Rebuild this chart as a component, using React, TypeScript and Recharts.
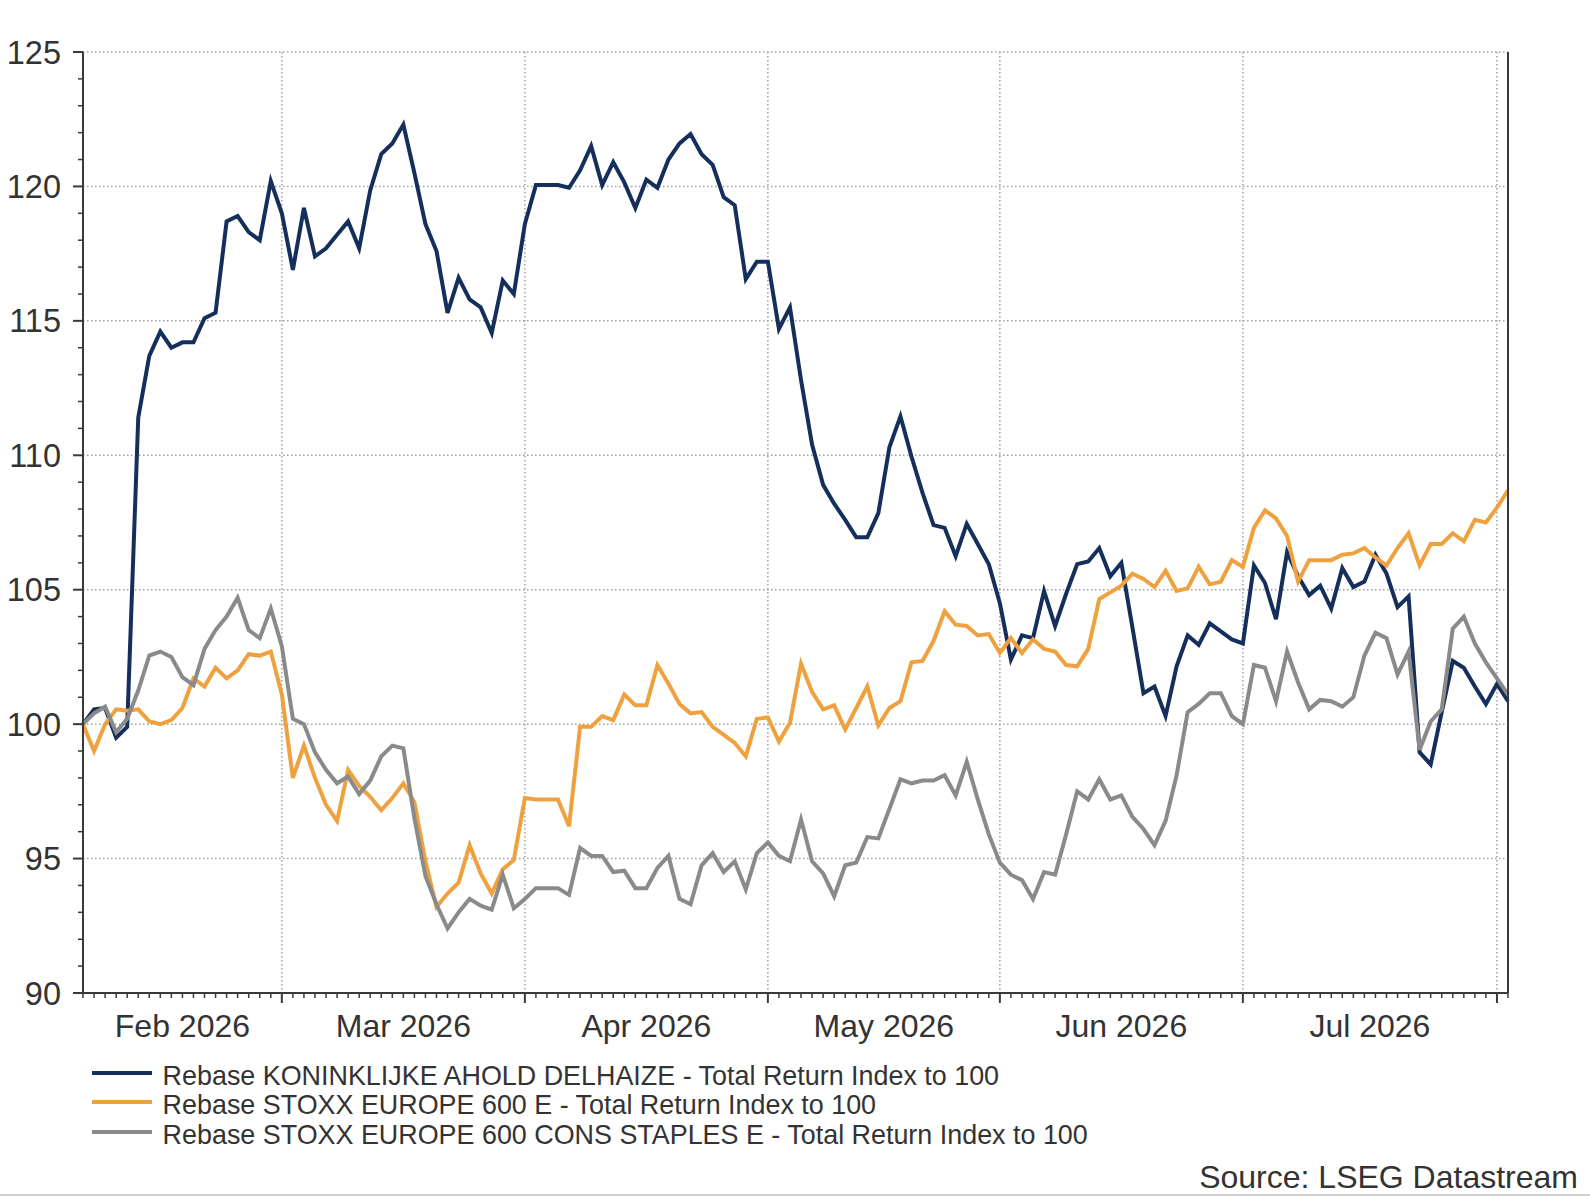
import { LineChart, Line, XAxis, YAxis, CartesianGrid, Legend } from "recharts";

// trading days from 4 Feb 2026 to 4 Aug 2026, rebased to 100
const ahold = [
  100.0, 100.55, 100.6, 99.5, 99.9, 111.4, 113.7, 114.6, 114.0, 114.2,
  114.2, 115.1, 115.3, 118.7, 118.9, 118.3, 118.0, 120.2, 119.0, 116.9,
  119.2, 117.4, 117.7, 118.2, 118.7, 117.7, 119.85, 121.2, 121.6, 122.3,
  120.5, 118.6, 117.6, 115.3, 116.6, 115.8, 115.5, 114.55, 116.5, 116.0,
  118.6, 120.05, 120.05, 120.05, 119.95, 120.6, 121.5, 120.05, 120.9, 120.15,
  119.2, 120.25, 119.95, 121.0, 121.6, 121.95, 121.2, 120.8, 119.6, 119.3,
  116.55, 117.2, 117.2, 114.7, 115.5, 112.8, 110.4, 108.9, 108.2, 107.6,
  106.95, 106.95, 107.85, 110.3, 111.45, 109.95, 108.6, 107.4, 107.3, 106.25,
  107.45, 106.7, 105.95, 104.5, 102.4, 103.3, 103.2, 104.95, 103.65, 104.85,
  105.95, 106.05, 106.55, 105.5, 106.0, 103.6, 101.15, 101.4, 100.3, 102.15,
  103.3, 102.95, 103.75, 103.45, 103.15, 103.0, 105.9, 105.25, 103.9, 106.4,
  105.5, 104.8, 105.15, 104.3, 105.8, 105.1, 105.3, 106.3, 105.6, 104.35,
  104.75, 98.95, 98.5, 100.45, 102.35, 102.1, 101.4, 100.75, 101.5, 100.85,
];

const stoxx = [
  100.0, 99.0, 100.0, 100.55, 100.5, 100.55, 100.1, 100.0, 100.15, 100.6,
  101.7, 101.4, 102.1, 101.7, 102.0, 102.6, 102.55, 102.7, 101.1, 98.0,
  99.2, 98.0, 97.0, 96.4, 98.3, 97.7, 97.3, 96.8, 97.25, 97.8,
  97.1, 94.9, 93.2, 93.7, 94.1, 95.5, 94.45, 93.7, 94.6, 94.95,
  97.25, 97.2, 97.2, 97.2, 96.2, 99.9, 99.9, 100.3, 100.15, 101.1,
  100.7, 100.7, 102.2, 101.5, 100.75, 100.4, 100.45, 99.9, 99.6, 99.3,
  98.8, 100.2, 100.25, 99.35, 100.05, 102.25, 101.2, 100.55, 100.7, 99.8,
  100.6, 101.4, 99.95, 100.6, 100.85, 102.3, 102.35, 103.1, 104.2, 103.7,
  103.65, 103.3, 103.35, 102.65, 103.2, 102.65, 103.15, 102.8, 102.7, 102.2,
  102.15, 102.8, 104.65, 104.9, 105.15, 105.6, 105.4, 105.1, 105.7, 104.95,
  105.05, 105.85, 105.2, 105.3, 106.1, 105.85, 107.3, 107.95, 107.65, 107.0,
  105.3, 106.1, 106.1, 106.1, 106.3, 106.35, 106.55, 106.2, 105.9, 106.55,
  107.1, 105.9, 106.7, 106.7, 107.1, 106.8, 107.6, 107.5, 108.05, 108.7,
];

const staples = [
  100.0, 100.4, 100.65, 99.7, 100.2, 101.25, 102.55, 102.7, 102.5, 101.75,
  101.45, 102.8, 103.5, 104.0, 104.7, 103.5, 103.2, 104.3, 102.9, 100.2,
  100.0, 98.95, 98.3, 97.8, 98.05, 97.4, 97.9, 98.8, 99.2, 99.1,
  96.5, 94.35, 93.3, 92.4, 93.0, 93.5, 93.25, 93.1, 94.4, 93.15,
  93.5, 93.9, 93.9, 93.9, 93.65, 95.4, 95.1, 95.1, 94.5, 94.55,
  93.9, 93.9, 94.65, 95.1, 93.5, 93.3, 94.75, 95.2, 94.5, 94.9,
  93.85, 95.2, 95.6, 95.1, 94.9, 96.45, 94.9, 94.45, 93.6, 94.75,
  94.85, 95.8, 95.75, 96.85, 97.95, 97.8, 97.9, 97.9, 98.1, 97.35,
  98.6, 97.2, 95.9, 94.85, 94.4, 94.2, 93.5, 94.5, 94.4, 95.9,
  97.5, 97.2, 97.95, 97.2, 97.35, 96.55, 96.1, 95.5, 96.4, 98.1,
  100.45, 100.75, 101.15, 101.15, 100.3, 100.0, 102.2, 102.1, 100.85, 102.7,
  101.55, 100.55, 100.9, 100.85, 100.65, 101.0, 102.55, 103.4, 103.2, 101.85,
  102.7, 99.05, 100.1, 100.55, 103.55, 104.0, 103.0, 102.3, 101.7, 101.1,
];

// first trading day of each month (index), and where the month names sit
const monthStarts = [18, 40, 62, 83, 105, 128];
const monthLabels = ["Feb 2026", "Mar 2026", "Apr 2026", "May 2026", "Jun 2026", "Jul 2026"];
const monthLabelAt = [9, 29, 51, 72.5, 94, 116.5];

const yMajor = [90, 95, 100, 105, 110, 115, 120, 125];

const series = [
  { key: "ahold", name: "Rebase KONINKLIJKE AHOLD DELHAIZE - Total Return Index to 100", color: "#152f5c" },
  { key: "stoxx", name: "Rebase STOXX EUROPE 600 E - Total Return Index to 100", color: "#eea13e" },
  { key: "staples", name: "Rebase STOXX EUROPE 600 CONS STAPLES E - Total Return Index to 100", color: "#8a8a8a" },
];

const data = ahold.map((v, i) => ({ i, ahold: v, stoxx: stoxx[i], staples: staples[i] }));

const yTicks = Array.from({ length: 36 }, (_, k) => 90 + k);
const xTicks = [...data.map((d) => d.i), 72.5, 116.5].sort((a, b) => a - b);

const FONT = '"Liberation Sans", Arial, Helvetica, sans-serif';
const AXIS = "#3a3a3a";
const TEXT = "#333333";

function XTick(props: any) {
  const { x, y, payload } = props;
  const v = payload.value;
  const major = monthStarts.includes(v);
  const li = monthLabelAt.indexOf(v);
  return (
    <g>
      {Number.isInteger(v) && (
        <line x1={x} x2={x} y1={y} y2={y + (major ? 10 : 5)} stroke={AXIS} strokeWidth={major ? 2 : 1.5} />
      )}
      {li >= 0 && (
        <text x={x} y={y + 44} textAnchor="middle" fontSize={32} fontFamily={FONT} fill={TEXT}>
          {monthLabels[li]}
        </text>
      )}
    </g>
  );
}

function YTick(props: any) {
  const { x, y, payload, side } = props;
  const v = payload.value;
  const major = v % 5 === 0;
  const dir = side === "left" ? -1 : 1;
  return (
    <g>
      <line x1={x} x2={x + dir * (major ? 10 : 5)} y1={y} y2={y} stroke={AXIS} strokeWidth={major ? 2 : 1.5} />
      {major && (
        <text
          x={side === "left" ? x - 22 : x + 24}
          y={y}
          dy={11.5}
          textAnchor={side === "left" ? "end" : "start"}
          fontSize={32.5}
          fontFamily={FONT}
          fill={TEXT}
        >
          {v}
        </text>
      )}
    </g>
  );
}

function LegendBox() {
  return (
    <div style={{ fontFamily: FONT }}>
      {series.map((s) => (
        <div key={s.key} style={{ position: "relative", height: 29.5, width: 1000 }}>
          <svg width={60} height={4} style={{ position: "absolute", left: 0, top: 9 }}>
            <line x1={0} x2={60} y1={2} y2={2} stroke={s.color} strokeWidth={4} />
          </svg>
          <span
            style={{
              position: "absolute",
              left: 71,
              top: 0,
              fontSize: 26.9,
              lineHeight: "29.5px",
              color: TEXT,
              whiteSpace: "nowrap",
            }}
          >
            {s.name}
          </span>
        </div>
      ))}
    </div>
  );
}

export default function App() {
  return (
    <div
      style={{
        position: "absolute",
        left: 0,
        top: 0,
        width: 1590,
        height: 1196,
        background: "#fff",
        overflow: "hidden",
        fontFamily: FONT,
      }}
    >
      <LineChart width={1590} height={1196} data={data} margin={{ top: 52, right: 12, bottom: 153, left: 13 }}>
        <CartesianGrid
          yAxisId="left"
          horizontalValues={yMajor}
          verticalValues={monthStarts}
          stroke="#a0a0a0"
          strokeWidth={1.5}
          strokeDasharray="1.5 2.5"
        />
        <XAxis
          dataKey="i"
          type="number"
          domain={[0, 129]}
          ticks={xTicks}
          interval={0}
          height={50}
          tickSize={0}
          tickMargin={0}
          tickLine={false}
          axisLine={{ stroke: AXIS, strokeWidth: 2 }}
          tick={(p: any) => <XTick {...p} />}
        />
        <YAxis
          yAxisId="left"
          orientation="left"
          width={70}
          domain={[90, 125]}
          ticks={yTicks}
          interval={0}
          tickSize={0}
          tickMargin={0}
          tickLine={false}
          axisLine={{ stroke: AXIS, strokeWidth: 2 }}
          tick={(p: any) => <YTick {...p} side="left" />}
        />
        <YAxis
          yAxisId="right"
          orientation="right"
          width={70}
          domain={[90, 125]}
          ticks={yTicks}
          interval={0}
          tickSize={0}
          tickMargin={0}
          tickLine={false}
          axisLine={{ stroke: AXIS, strokeWidth: 2 }}
          tick={(p: any) => <YTick {...p} side="right" />}
        />
        {series.map((s) => (
          <Line
            key={s.key}
            yAxisId="left"
            type="linear"
            dataKey={s.key}
            name={s.name}
            stroke={s.color}
            strokeWidth={4}
            dot={false}
            activeDot={false}
            isAnimationActive={false}
          />
        ))}
        <Legend
          layout="horizontal"
          verticalAlign="middle"
          align="center"
          wrapperStyle={{ top: 1061.8, left: 91.6, width: 1100, height: 90 }}
          content={() => <LegendBox />}
        />
      </LineChart>
      <div
        style={{
          position: "absolute",
          right: 12,
          top: 1161,
          fontSize: 32,
          lineHeight: 1,
          color: TEXT,
          whiteSpace: "nowrap",
        }}
      >
        Source: LSEG Datastream
      </div>
      <div style={{ position: "absolute", left: 0, top: 1194, width: 1590, height: 1.5, background: "#d0d0d0" }} />
    </div>
  );
}
